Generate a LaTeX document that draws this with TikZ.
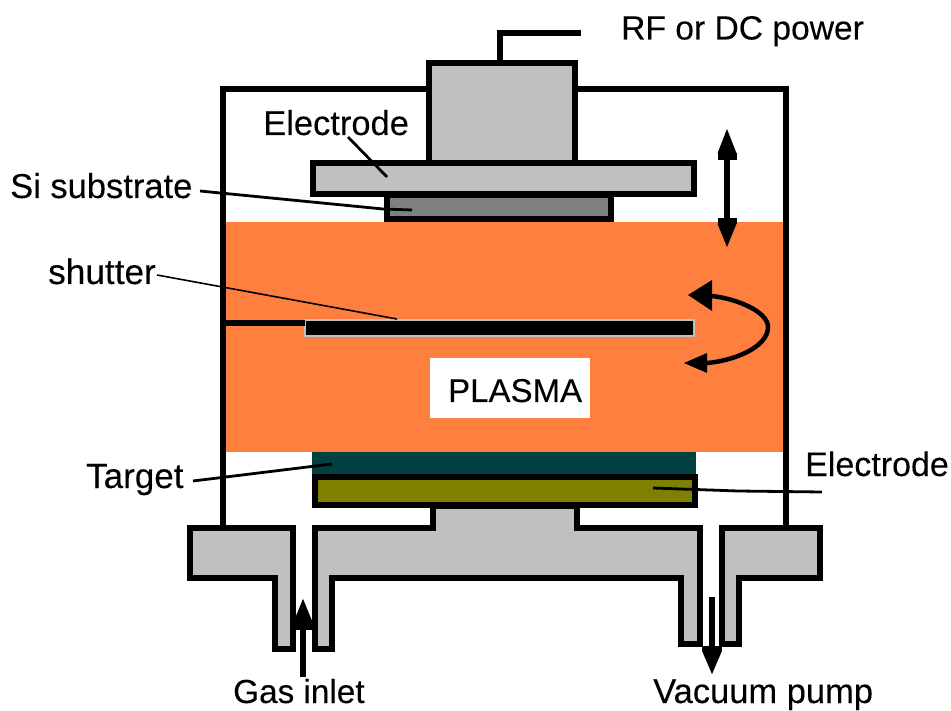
\documentclass[tikz,border=0pt]{standalone}
\usepackage{fontspec}
\setmainfont[FakeBold=0.12]{Liberation Sans}
\usetikzlibrary{arrows.meta}
\definecolor{greyA}{HTML}{C0C0C0}
\definecolor{greyB}{HTML}{808080}
\definecolor{plasma}{HTML}{FF7F3F}
\definecolor{teal2}{HTML}{004040}
\definecolor{olive2}{HTML}{808000}
\tikzset{
  wall/.style={draw=black,line width=6pt,line join=miter},
  part/.style={wall,fill=greyA},
  label/.style={inner sep=0pt,anchor=base west,font=\fontsize{34.5}{40}\selectfont},
  leader/.style={draw=black,line width=2.8pt},
  bigarrow/.style={draw=black,line width=5.5pt},
}
\begin{document}
\begin{tikzpicture}[x=1pt,y=-1pt]
\useasboundingbox (0,0) rectangle (951,711);
% chamber walls
\draw[wall] (223,528) -- (223,89) -- (786,89) -- (786,528);
% power lead
\coordinate (leadA) at (500,63);
\coordinate (leadB) at (500,33);
\coordinate (leadC) at (581,33);
\draw[bigarrow] (leadA) -- (leadB) -- (leadC);
% upper electrode assembly
\draw[part] (429,163) -- (429,63) -- (575,63) -- (575,163);
\draw[part] (313,163) rectangle (694,194.5);
\draw[wall,fill=greyB] (387,195) rectangle (611,219.5);
% plasma
\fill[plasma] (226,222) rectangle (783,452);
% lower parts
\fill[teal2] (312,452) rectangle (696,476);
\draw[wall,fill=olive2] (315,477) rectangle (695,505);
% lower flange
\draw[part] (190,528) -- (293,528) -- (293,649) -- (275,649) -- (275,578) -- (190,578) -- cycle;
\draw[part] (315,649) -- (315,528) -- (433,528) -- (433,506) -- (577,506) -- (577,528) -- (700,528) -- (700,644) -- (681,644) -- (681,578) -- (332,578) -- (332,649) -- cycle;
\draw[part] (722,528) -- (820,528) -- (820,578) -- (739,578) -- (739,644) -- (722,644) -- cycle;
% shutter
\draw[greyA,fill=black,line width=1.5pt] (305,320) rectangle (694,336);
\coordinate (rodA) at (223,323);
\coordinate (rodB) at (305,323);
\draw[black,line width=5.5pt] (rodA) -- (rodB);
% plasma label
\node[fill=white,minimum width=160pt,minimum height=60pt,inner sep=0pt] (plasmabox) at (510,388) {};
\node[label,font=\fontsize{33}{40}\selectfont] (plasmatext) at (448,402) {PLASMA};
% labels
\node[label,font=\fontsize{33.6}{40}\selectfont] (rf) at (621,39.5) {RF or DC power};
\node[label] (eltop) at (263,135) {Electrode};
\node[label] (si) at (10,198) {Si substrate};
\node[label,font=\fontsize{35.2}{40}\selectfont] (shut) at (48,284) {shutter};
\node[label,font=\fontsize{35}{40}\selectfont] (targ) at (86,488) {Target};
\node[label,font=\fontsize{34}{40}\selectfont] (elbot) at (805,476) {Electrode};
\node[label,font=\fontsize{33.3}{40}\selectfont] (gas) at (233,703) {Gas inlet};
\node[label] (vac) at (653,703) {Vacuum pump};
% leaders
\coordinate (eltopA) at (348,137);
\coordinate (eltopB) at (387,177);
\draw[leader] (eltopA) -- (eltopB);
\coordinate (siA) at (200,191);
\coordinate (siB) at (383,209);
\coordinate (siC) at (412,210);
\draw[leader] (siA) -- (siB) -- (siC);
\coordinate (shutA) at (157,275);
\coordinate (shutB) at (397,319);
\draw[leader,line width=1.6pt] (shutA) -- (shutB);
\coordinate (targA) at (193,481);
\coordinate (targB) at (332,464);
\draw[leader] (targA) -- (targB);
\coordinate (elbA) at (653,488);
\coordinate (elbB) at (738,491);
\coordinate (elbC) at (822,492);
\draw[leader] (elbA) -- (elbB) -- (elbC);
% arrows
\coordinate (gasA) at (303,677);
\coordinate (gasB) at (303,598);
\draw[bigarrow,-{Rectangle[length=7pt,width=20pt,sep=0pt]Triangle[length=25pt,width=18pt]}] (gasA) -- (gasB);
\coordinate (vacA) at (712,597);
\coordinate (vacB) at (712,675);
\draw[bigarrow,-{Rectangle[length=5pt,width=20pt,sep=0pt]Triangle[length=24pt,width=18pt]}] (vacA) -- (vacB);
\coordinate (moveA) at (727,128);
\coordinate (moveB) at (727,248);
\draw[bigarrow,{Triangle[length=25pt,width=17pt,sep=0pt]Rectangle[length=7pt,width=19pt]}-{Rectangle[length=6pt,width=19pt,sep=0pt]Triangle[length=24pt,width=17pt]}] (moveA) -- (moveB);
\coordinate (rotA) at (712,296);
\coordinate (rotB) at (768,327);
\coordinate (rotC) at (707,363);
\coordinate (rotTipA) at (688,295);
\coordinate (rotTipC) at (684,363);
\fill (rotTipA) -- (712,280) -- (712,311) -- cycle;
\fill (rotTipC) -- (707,353) -- (707,373) -- cycle;
\draw[bigarrow,line width=4.5pt] (rotA) .. controls (738,299) and (768,312) .. (rotB) .. controls (768,348) and (732,361) .. (rotC);
\end{tikzpicture}
\end{document}
